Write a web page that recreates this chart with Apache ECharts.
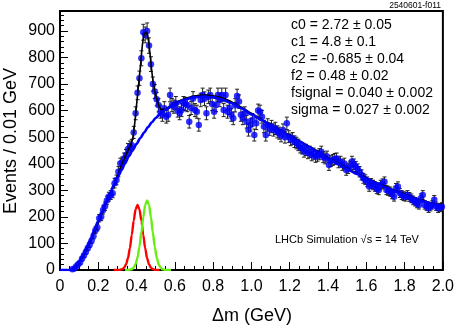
<!DOCTYPE html>
<html>
<head>
<meta charset="utf-8">
<script src="https://cdn.jsdelivr.net/npm/echarts@6/dist/echarts.min.js"></script>
<style>
html,body{margin:0;padding:0;background:#fff;}
#chart{width:457px;height:326px;}
</style>
</head>
<body>
<div id="chart"></div>
<script>
// ---- data ----
const firstBinCenter = 0.065;   // GeV
const binWidth = 0.01;          // GeV
const counts = [
  3,6,14,22,28,42,55,68,82,95,
  110,128,150,160,195,200,226,240,262,276,
  282,289,327,339,370,401,405,420,433,455,
  464,470,518,590,667,722,797,895,885,900,
  845,775,700,672,643,620,596,584,609,577,
  584,659,621,615,628,600,590,602,628,625,
  621,558,610,646,602,596,546,640,659,645,
  590,652,659,625,596,621,659,640,659,602,
  659,596,610,584,571,620,655,634,584,571,
  590,558,527,546,565,508,552,600,596,577,
  540,508,546,530,540,527,533,520,515,505,
  527,500,552,502,490,495,483,478,471,462,
  458,446,452,440,445,432,438,426,430,436,
  445,425,420,427,395,410,414,418,420,405,
  408,395,401,376,383,390,408,398,389,380,
  370,358,345,340,332,314,326,320,314,305,
  301,320,325,332,301,298,295,285,276,308,
  314,290,282,278,276,282,275,270,262,257,
  250,245,270,282,245,240,232,238,245,264,
  240,232,235,238
];

// background fit (blue)
const bgX = [0,0.06,0.08,0.10,0.12,0.14,0.16,0.18,0.20,0.22,0.24,0.26,0.28,0.30,0.32,0.34,0.36,0.38,0.40,0.42,0.44,0.46,0.48,0.50,0.52,0.55,0.60,0.65,0.70,0.75,0.80,0.85,0.90,0.95,1.00,1.05,1.10,1.15,1.20,1.25,1.30,1.35,1.40,1.45,1.50,1.55,1.60,1.65,1.70,1.75,1.80,1.85,1.90,1.95,2.00];
const bgY = [0,0,10,30,55,85,115,150,185,220,255,285,318,348,375,402,428,452,475,497,518,538,556,572,586,603,626,641,650,653,650,641,627,608,586,565,545,525,505,484,463,442,420,400,380,362,344,327,311,296,282,270,258,248,238];

// total fit (black)
const fitX = [0,0.06,0.08,0.10,0.12,0.14,0.16,0.18,0.20,0.22,0.24,0.26,0.28,0.30,0.32,0.34,0.36,0.37,0.38,0.39,0.40,0.41,0.42,0.43,0.44,0.45,0.46,0.47,0.48,0.49,0.50,0.51,0.52,0.53,0.55,0.60,0.65,0.70,0.75,0.80,0.85,0.90,0.95,1.00,1.05,1.10,1.15,1.20,1.25,1.30,1.35,1.40,1.45,1.50,1.55,1.60,1.65,1.70,1.75,1.80,1.85,1.90,1.95,2.00];
const fitY = [0,0,10,28,52,80,110,142,178,215,252,285,315,352,393,425,458,472,496,550,622,695,765,845,888,895,875,815,745,692,658,632,612,603,606,629,645,655,659,656,647,632,612,590,568,548,528,508,487,466,445,423,403,383,365,347,330,314,299,285,273,261,251,241];

// signal shapes
const redX = [0.28,0.305,0.315,0.325,0.335,0.345,0.355,0.365,0.375,0.385,0.395,0.405,0.415,0.425,0.435,0.445,0.455,0.465,0.475,0.485,0.495,0.505,0.52];
const redY = [0,0.2,1,3,8.6,21,44,82,132,186,229,245,229,186,132,82,44,21,8.6,3,1,0.2,0];
const greenX = [0.34,0.355,0.365,0.375,0.385,0.395,0.405,0.415,0.425,0.435,0.445,0.455,0.465,0.475,0.485,0.495,0.505,0.515,0.525,0.535,0.545,0.555,0.58];
const greenY = [0,0.3,1,3,9,22,47,88,141,199,245,262,245,199,141,88,47,22,9,3,1,0.3,0];

const paramLines = [
  "c0 = 2.72 \u00b1 0.05",
  "c1 = 4.8 \u00b1 0.1",
  "c2 = -0.685 \u00b1 0.04",
  "f2 = 0.48 \u00b1 0.02",
  "fsignal = 0.040 \u00b1 0.002",
  "sigma = 0.027 \u00b1 0.002"
];
const figId = "2540601-f011";
const simLabel = "LHCb Simulation \u221as = 14 TeV";
const xTitle = "\u0394m (GeV)";
const yTitle = "Events / 0.01 GeV";

// ---- build ----
const FONT = "'Liberation Sans', Arial, Helvetica, sans-serif";
const pts = counts.map((c, i) => [+(firstBinCenter + i * binWidth).toFixed(3), c]);
const errPts = pts.map(p => [p[0], p[1], Math.sqrt(p[1])]);
const zip = (xs, ys) => xs.map((x, i) => [x, ys[i]]);

const chart = echarts.init(document.getElementById('chart'), null, {renderer: 'canvas'});

const graphics = [
  {type:'text', right: 16, top: 1, style:{text: figId, font: "8.5px " + FONT, fill:'#000'}},
  {type:'text', left: 275, top: 234, style:{text: simLabel, font: "11px " + FONT, fill:'#000'}},
  {type:'text', x: 252, y: 316, style:{text: xTitle, font: "18px " + FONT, fill:'#000', textAlign:'center', textVerticalAlign:'middle'}},
  {type:'text', x: 11, y: 141, rotation: Math.PI/2, style:{text: yTitle, font: "18px " + FONT, fill:'#000', textAlign:'center', textVerticalAlign:'middle'}}
];
paramLines.forEach((t, i) => {
  graphics.push({type:'text', x: 291, y: 25 + i * 17, style:{text: t, font: "14px " + FONT, fill:'#000', textVerticalAlign:'middle'}});
});

chart.setOption({
  animation: false,
  backgroundColor: '#fff',
  grid: {left: 60, right: 14, top: 11, bottom: 56, show: true, borderColor: '#000', borderWidth: 2, backgroundColor: 'transparent'},
  xAxis: {
    type: 'value', min: 0, max: 2, interval: 0.2,
    axisLine: {show: true, onZero: false, lineStyle: {color: '#000', width: 1.5}},
    axisTick: {show: true, inside: true, length: 8, lineStyle: {color: '#000'}},
    minorTick: {show: true, splitNumber: 4, length: 4, lineStyle: {color: '#000'}},
    splitLine: {show: false},
    axisLabel: {color: '#000', fontSize: 16, fontFamily: FONT, margin: 9,
      formatter: v => (Math.abs(v) < 1e-9 ? '0' : v.toFixed(1))}
  },
  yAxis: {
    type: 'value', min: 0, max: 975, interval: 100,
    axisLine: {show: true, onZero: false, lineStyle: {color: '#000', width: 1.5}},
    axisTick: {show: true, inside: true, length: 8, lineStyle: {color: '#000'}},
    minorTick: {show: true, splitNumber: 5, length: 4, lineStyle: {color: '#000'}},
    splitLine: {show: false},
    axisLabel: {color: '#000', fontSize: 16, fontFamily: FONT, margin: 5, showMaxLabel: false,
      formatter: v => (v % 100 === 0 ? String(v) : '')}
  },
  graphic: graphics,
  series: [
    {
      type: 'custom', name: 'err', data: errPts, encode: {x: 0, y: 1}, z: 2,
      renderItem: function (params, api) {
        const x = api.value(0), y = api.value(1), e = api.value(2);
        const t = api.coord([x, y + e]);
        const b = api.coord([x, y - e]);
        const hw = 2;
        const st = {stroke: '#222', lineWidth: 1};
        return {type: 'group', children: [
          {type: 'line', shape: {x1: t[0], y1: t[1], x2: b[0], y2: b[1]}, style: st},
          {type: 'line', shape: {x1: t[0] - hw, y1: t[1], x2: t[0] + hw, y2: t[1]}, style: st},
          {type: 'line', shape: {x1: b[0] - hw, y1: b[1], x2: b[0] + hw, y2: b[1]}, style: st}
        ]};
      }
    },
    {type: 'scatter', name: 'data', data: pts, symbol: 'circle', symbolSize: 6.5, itemStyle: {color: '#0000ff'}, z: 3},
    {type: 'line', name: 'fit', data: zip(fitX, fitY), showSymbol: false, smooth: 0.2, lineStyle: {color: '#000', width: 1.6}, z: 4},
    {type: 'line', name: 'bg', data: zip(bgX, bgY), showSymbol: false, smooth: 0.3, smoothMonotone: 'x', lineStyle: {color: '#0000ff', width: 2.6}, z: 5},
    {type: 'line', name: 'red', data: zip(redX, redY), showSymbol: false, smooth: 0.3, smoothMonotone: 'x', lineStyle: {color: '#ff0000', width: 2.4}, z: 6},
    {type: 'line', name: 'green', data: zip(greenX, greenY), showSymbol: false, smooth: 0.3, smoothMonotone: 'x', lineStyle: {color: '#66ee11', width: 2.4}, z: 6}
  ]
});
</script>
</body>
</html>
